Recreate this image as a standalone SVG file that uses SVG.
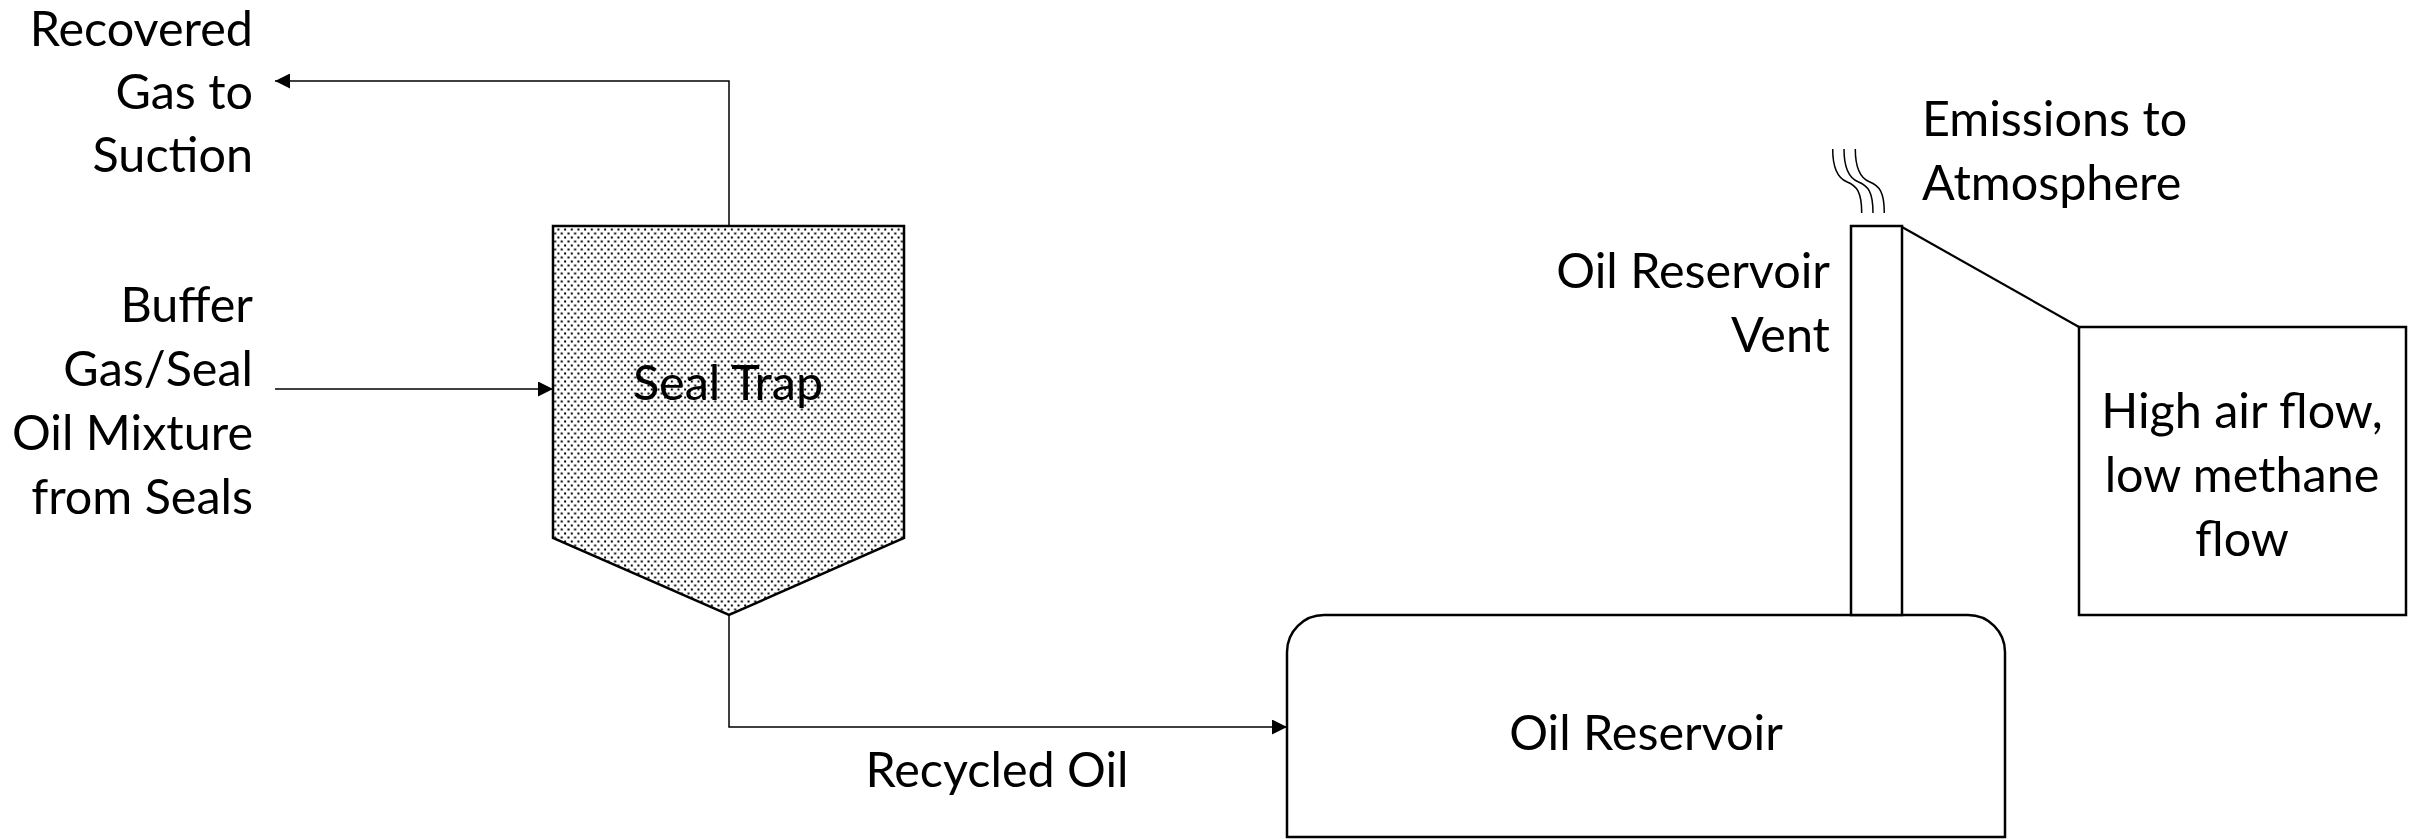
<svg xmlns="http://www.w3.org/2000/svg" width="2420" height="839" viewBox="0 0 2420 839">
  <defs>
    <pattern id="dots" width="6.67" height="8" patternUnits="userSpaceOnUse">
      <rect x="0" y="0" width="6.67" height="8" fill="#ffffff"/>
      <rect x="0.5" y="0.5" width="2" height="2" fill="#000"/>
      <rect x="3.83" y="4.5" width="2" height="2" fill="#000"/>
    </pattern>
    <marker id="arrow" viewBox="0 0 15 15" refX="15" refY="7.5" markerWidth="15" markerHeight="15" markerUnits="userSpaceOnUse" orient="auto">
      <path d="M0,0 L15,7.5 L0,15 Z" fill="#000"/>
    </marker>
    <style>
      text { font-family: Lato, "Liberation Sans", sans-serif; font-size: 48.5px; fill: #000; }
      .shape { stroke: #000; stroke-width: 2.5; fill: #fff; }
      .conn { stroke: #000; stroke-width: 1.5; fill: none; }
      .smoke { stroke: #000; stroke-width: 1.5; fill: none; }
    </style>
  </defs>
  <rect width="2420" height="839" fill="#fff"/>

  <g id="connectors">
    <path class="conn" d="M729,226 V81 H275" marker-end="url(#arrow)"/>
    <path class="conn" d="M275,389 H553" marker-end="url(#arrow)"/>
    <path class="conn" d="M729,615 V727 H1287" marker-end="url(#arrow)"/>
    <path class="conn" d="M1902,227 L2079,327" style="stroke-width:2.2"/>
  </g>

  <g id="recovered-gas-label">
    <text x="253" y="46" text-anchor="end">Recovered</text>
    <text x="253" y="109" text-anchor="end">Gas to</text>
    <text x="253" y="172" text-anchor="end">Suction</text>
  </g>

  <g id="buffer-gas-label">
    <text x="253" y="322" text-anchor="end">Buffer</text>
    <text x="253" y="386" text-anchor="end">Gas/Seal</text>
    <text x="253" y="450" text-anchor="end">Oil Mixture</text>
    <text x="253" y="514" text-anchor="end">from Seals</text>
  </g>

  <g id="seal-trap">
    <polygon class="shape" points="553,226 904,226 904,538 729,615 553,538" style="fill:url(#dots)"/>
    <text x="728" y="400" text-anchor="middle">Seal Trap</text>
  </g>

  <g id="recycled-oil-label">
    <text x="997" y="787" text-anchor="middle">Recycled Oil</text>
  </g>

  <g id="oil-reservoir">
    <path class="shape" d="M1287,837 V652 A37,37 0 0 1 1324,615 H1968 A37,37 0 0 1 2005,652 V837 Z"/>
    <text x="1646" y="750" text-anchor="middle">Oil Reservoir</text>
  </g>

  <g id="oil-reservoir-vent">
    <rect class="shape" x="1851" y="226" width="51" height="389"/>
    <text x="1830" y="288" text-anchor="end">Oil Reservoir</text>
    <text x="1830" y="352" text-anchor="end">Vent</text>
  </g>

  <g id="emissions">
    <path class="smoke" d="M1832.7,149 C1832.7,170 1838.3,178.3 1846.7,181.7 C1856.7,185.7 1861.7,191.7 1861.7,213"/>
    <path class="smoke" d="M1844,149 C1844,170 1849.6,178.3 1858,181.7 C1868,185.7 1873,191.7 1873,213"/>
    <path class="smoke" d="M1855.3,149 C1855.3,170 1860.9,178.3 1869.3,181.7 C1879.3,185.7 1884.3,191.7 1884.3,213"/>
    <text x="1922" y="136">Emissions to</text>
    <text x="1922" y="200">Atmosphere</text>
  </g>

  <g id="high-air-flow-box">
    <rect class="shape" x="2079" y="327" width="327" height="288"/>
    <text x="2242" y="428" text-anchor="middle">High air flow,</text>
    <text x="2242" y="492" text-anchor="middle">low methane</text>
    <text x="2242" y="556" text-anchor="middle">flow</text>
  </g>
</svg>
